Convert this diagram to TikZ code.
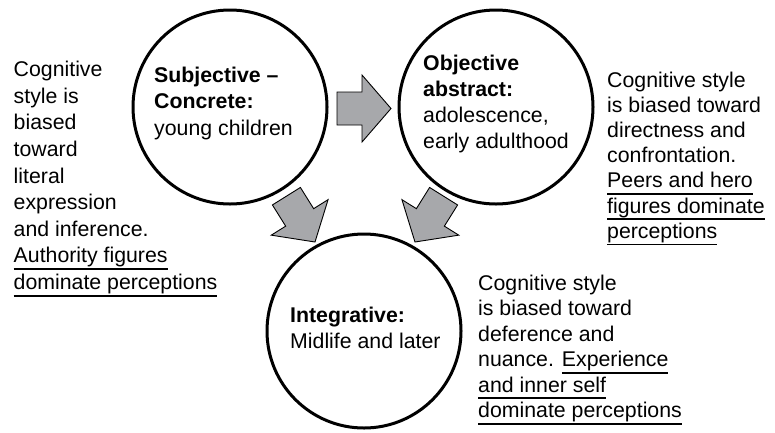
\documentclass[tikz,border=0pt]{standalone}
\usepackage{fontspec}
\setmainfont{Liberation Sans}
\definecolor{arrowgray}{HTML}{A7A8AB}

% underline drawn as a rule below the baseline
\newsavebox\undlbox
\newcommand{\undl}[1]{\sbox\undlbox{#1}\rlap{\rule[-7pt]{\wd\undlbox}{1.6pt}}\usebox\undlbox}

% multi-line text nodes are placed by the baseline of their last line
\tikzset{
  stage/.style={circle, draw=black, line width=3pt, minimum size=194pt, inner sep=0pt},
  body/.style={anchor=base west, align=left, inner sep=0pt,
    font=\fontsize{21.3pt}{#1}\selectfont},
  body/.default={26.6pt},
  blockarrow/.pic={
    \draw[fill=arrowgray, draw=black, line width=0.9pt, line join=miter]
      (0,-16.5) -- (25,-16.5) -- (25,-33.5) -- (54,0) -- (25,33.5)
      -- (25,16.5) -- (0,16.5) -- cycle;
  }
}

\begin{document}
\begin{tikzpicture}[x=1pt, y=-1pt]
\useasboundingbox (0,0) rectangle (775,432);

% the three stages
\node[stage] (s1) at (230,107) {};
\node[stage] (s2) at (496,107) {};
\node[stage] (s3) at (364,331) {};

% stage titles
\node[body] (t1) at (154,135.2) {\textbf{Subjective –}\\\textbf{Concrete:}\\young children};
\node[body=26.3pt] (t2) at (423,148.9) {\textbf{Objective}\\\textbf{abstract:}\\adolescence,\\early adulthood};
\node[body=25.8pt] (t3) at (290,348.3) {\textbf{Integrative:}\\Midlife and later};

% transitions between stages
\coordinate (a1) at (337,108.5);
\coordinate (a2) at (286.4,196.2);
\coordinate (a3) at (443.6,196.2);
\pic at (a1) {blockarrow};
\pic[rotate=-58] at (a2) {blockarrow};
\pic[rotate=-122] at (a3) {blockarrow};

% descriptions of each stage
\node[body] (d1) at (13.5,289.5) {Cognitive\\style is\\biased\\toward\\literal\\expression\\and inference.\\\undl{Authority figures}\\\undl{dominate perceptions}};
\node[body=25.2pt] (d2) at (607,238.2) {Cognitive style\\is biased toward\\directness and\\confrontation.\\\undl{Peers and hero}\\\undl{figures dominate}\\\undl{perceptions}};
\node[body=25.5pt] (d3) at (478,417.5) {Cognitive style\\is biased toward\\deference and\\nuance. \undl{Experience}\\\undl{and inner self}\\\undl{dominate perceptions}};
\end{tikzpicture}
\end{document}
